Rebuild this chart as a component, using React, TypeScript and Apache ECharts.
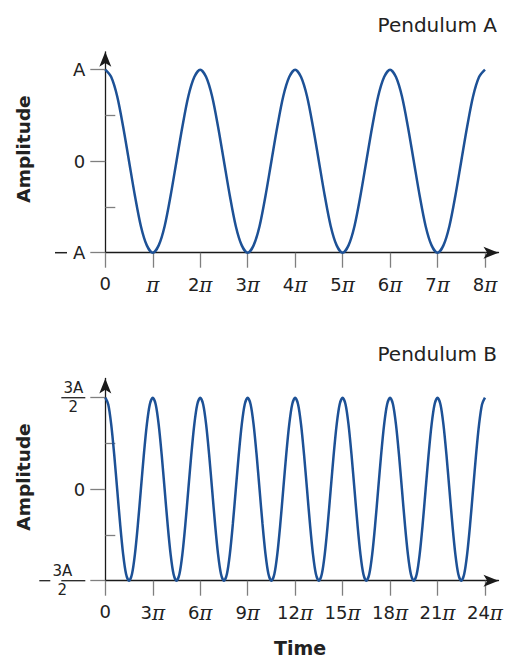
import React, { useEffect, useRef } from "react";
import * as echarts from "echarts";

// Pendulum A: time in units of π, amplitude in units of A
const xTop = [
  0, 0.125, 0.25, 0.375, 0.5, 0.625, 0.75, 0.875, 1, 1.125, 1.25, 1.375, 1.5, 1.625, 1.75, 1.875,
  2, 2.125, 2.25, 2.375, 2.5, 2.625, 2.75, 2.875, 3, 3.125, 3.25, 3.375, 3.5, 3.625, 3.75, 3.875,
  4, 4.125, 4.25, 4.375, 4.5, 4.625, 4.75, 4.875, 5, 5.125, 5.25, 5.375, 5.5, 5.625, 5.75, 5.875,
  6, 6.125, 6.25, 6.375, 6.5, 6.625, 6.75, 6.875, 7, 7.125, 7.25, 7.375, 7.5, 7.625, 7.75, 7.875,
  8,
];
const yTop = [
  1, 0.92, 0.71, 0.38, 0, -0.38, -0.71, -0.92, -1, -0.92, -0.71, -0.38, 0, 0.38, 0.71, 0.92,
  1, 0.92, 0.71, 0.38, 0, -0.38, -0.71, -0.92, -1, -0.92, -0.71, -0.38, 0, 0.38, 0.71, 0.92,
  1, 0.92, 0.71, 0.38, 0, -0.38, -0.71, -0.92, -1, -0.92, -0.71, -0.38, 0, 0.38, 0.71, 0.92,
  1, 0.92, 0.71, 0.38, 0, -0.38, -0.71, -0.92, -1, -0.92, -0.71, -0.38, 0, 0.38, 0.71, 0.92,
  1,
];
const xTicksTop = [0, 1, 2, 3, 4, 5, 6, 7, 8];
const yMajorTop = [-1, 0, 1];
const yMinorTop = [-0.5, 0.5];

// Pendulum B
const xBot = [
  0, 0.1875, 0.375, 0.5625, 0.75, 0.9375, 1.125, 1.3125, 1.5, 1.6875, 1.875, 2.0625, 2.25, 2.4375, 2.625, 2.8125,
  3, 3.1875, 3.375, 3.5625, 3.75, 3.9375, 4.125, 4.3125, 4.5, 4.6875, 4.875, 5.0625, 5.25, 5.4375, 5.625, 5.8125,
  6, 6.1875, 6.375, 6.5625, 6.75, 6.9375, 7.125, 7.3125, 7.5, 7.6875, 7.875, 8.0625, 8.25, 8.4375, 8.625, 8.8125,
  9, 9.1875, 9.375, 9.5625, 9.75, 9.9375, 10.125, 10.3125, 10.5, 10.6875, 10.875, 11.0625, 11.25, 11.4375, 11.625, 11.8125,
  12, 12.1875, 12.375, 12.5625, 12.75, 12.9375, 13.125, 13.3125, 13.5, 13.6875, 13.875, 14.0625, 14.25, 14.4375, 14.625, 14.8125,
  15, 15.1875, 15.375, 15.5625, 15.75, 15.9375, 16.125, 16.3125, 16.5, 16.6875, 16.875, 17.0625, 17.25, 17.4375, 17.625, 17.8125,
  18, 18.1875, 18.375, 18.5625, 18.75, 18.9375, 19.125, 19.3125, 19.5, 19.6875, 19.875, 20.0625, 20.25, 20.4375, 20.625, 20.8125,
  21, 21.1875, 21.375, 21.5625, 21.75, 21.9375, 22.125, 22.3125, 22.5, 22.6875, 22.875, 23.0625, 23.25, 23.4375, 23.625, 23.8125,
  24,
];
const yBot = [
  1.5, 1.39, 1.06, 0.57, 0, -0.57, -1.06, -1.39, -1.5, -1.39, -1.06, -0.57, 0, 0.57, 1.06, 1.39,
  1.5, 1.39, 1.06, 0.57, 0, -0.57, -1.06, -1.39, -1.5, -1.39, -1.06, -0.57, 0, 0.57, 1.06, 1.39,
  1.5, 1.39, 1.06, 0.57, 0, -0.57, -1.06, -1.39, -1.5, -1.39, -1.06, -0.57, 0, 0.57, 1.06, 1.39,
  1.5, 1.39, 1.06, 0.57, 0, -0.57, -1.06, -1.39, -1.5, -1.39, -1.06, -0.57, 0, 0.57, 1.06, 1.39,
  1.5, 1.39, 1.06, 0.57, 0, -0.57, -1.06, -1.39, -1.5, -1.39, -1.06, -0.57, 0, 0.57, 1.06, 1.39,
  1.5, 1.39, 1.06, 0.57, 0, -0.57, -1.06, -1.39, -1.5, -1.39, -1.06, -0.57, 0, 0.57, 1.06, 1.39,
  1.5, 1.39, 1.06, 0.57, 0, -0.57, -1.06, -1.39, -1.5, -1.39, -1.06, -0.57, 0, 0.57, 1.06, 1.39,
  1.5, 1.39, 1.06, 0.57, 0, -0.57, -1.06, -1.39, -1.5, -1.39, -1.06, -0.57, 0, 0.57, 1.06, 1.39,
  1.5,
];
const xTicksBot = [0, 3, 6, 9, 12, 15, 18, 21, 24];
const yMajorBot = [-1.5, 0, 1.5];
const yMinorBot = [-0.75, 0.75];

const titleA = "Pendulum A";
const titleB = "Pendulum B";
const yName = "Amplitude";
const xName = "Time";

const FONT = "'DejaVu Sans', 'Liberation Sans', Arial, sans-serif";
const AXIS = "#1a1a1a";
const TICK = "#7f7f7f";
const TXT = "#222222";
const LINE = "#1d5196";

const piRich = {
  p: { fontFamily: "'DejaVu Serif', 'Liberation Serif', serif", fontStyle: "italic", fontSize: 20, color: TXT },
};

function piLabel(v: number) {
  if (v === 0) return "0";
  if (v === 1) return "{p|π}";
  return `${v}{p|π}`;
}

export default function App() {
  const ref = useRef<HTMLDivElement>(null);
  useEffect(() => {
    if (!ref.current) return;
    const chart = echarts.init(ref.current, undefined, { renderer: "svg" });

    const xAxisBase = (max: number, ticks: number[], gridIndex: number) => ({
      type: "value",
      gridIndex,
      min: 0,
      max,
      splitLine: { show: false },
      axisLine: {
        show: true,
        onZero: false,
        symbol: ["none", "arrow"],
        symbolSize: [9, 15],
        lineStyle: { color: AXIS, width: 1.3 },
      },
      axisTick: { show: true, customValues: ticks, length: 15, lineStyle: { color: TICK, width: 1.3 } },
      axisLabel: {
        customValues: ticks,
        formatter: piLabel,
        margin: 22,
        fontSize: 18,
        fontFamily: FONT,
        color: TXT,
        rich: piRich,
      },
    });

    const yMajor = (min: number, max: number, vals: number[], gridIndex: number, fmt: any, rich: any) => ({
      type: "value",
      gridIndex,
      min,
      max,
      splitLine: { show: false },
      axisLine: {
        show: true,
        onZero: false,
        symbol: ["none", "arrow"],
        symbolSize: [9, 15],
        lineStyle: { color: AXIS, width: 1.3 },
      },
      axisTick: { show: true, customValues: vals, length: 15, lineStyle: { color: TICK, width: 1.3 } },
      axisLabel: {
        customValues: vals,
        formatter: fmt,
        margin: 20,
        fontSize: 18,
        fontFamily: FONT,
        color: TXT,
        rich,
      },
    });

    const yMinor = (min: number, max: number, vals: number[], gridIndex: number) => ({
      type: "value",
      gridIndex,
      min,
      max,
      splitLine: { show: false },
      axisLine: { show: false },
      axisTick: { show: true, customValues: vals, length: 10, lineStyle: { color: TICK, width: 1.3 } },
      axisLabel: { show: false },
    });

    const topRich = {
      dash: { width: 12, height: 1.5, backgroundColor: TXT, verticalAlign: "middle" },
      gap: { width: 6, height: 1 },
    };

    const fracRich = {
      n: { fontSize: 15, fontFamily: FONT, color: TXT, width: 24, align: "center", lineHeight: 16 },
      bar: { width: 24, height: 1.3, backgroundColor: TXT, lineHeight: 3 },
      dash: { width: 11, height: 1.3, backgroundColor: TXT, lineHeight: 3 },
      gap: { width: 11, height: 1, lineHeight: 3 },
    };

    const topFmt = (v: number) => (v === 1 ? "A" : v === -1 ? "{dash|}{gap|}A" : "0");
    const botFmt = (v: number) =>
      v === 1.5 ? "{n|3A}\n{bar|}\n{n|2}" : v === -1.5 ? "{n|3A}\n{dash|}{gap|}{bar|}\n{n|2}" : "0";

    const lineSeries = (xs: number[], ys: number[], xi: number, yi: number) => ({
      type: "line",
      xAxisIndex: xi,
      yAxisIndex: yi,
      data: xs.map((x, i) => [x, ys[i]]),
      smooth: 0.3,
      showSymbol: false,
      lineStyle: { color: LINE, width: 2.5 },
      z: 1,
    });

    const option = {
      animation: false,
      backgroundColor: "#ffffff",
      grid: [
        { left: 105.3, right: 7.5, top: 51.8, height: 200.9 },
        { left: 105.3, right: 7.5, top: 378.5, height: 202.2 },
      ],
      xAxis: [xAxisBase(8.285, xTicksTop, 0), xAxisBase(24.855, xTicksBot, 1)],
      yAxis: [
        yMajor(-1, 1.196, yMajorTop, 0, topFmt, topRich),
        yMinor(-1, 1.196, yMinorTop, 0),
        yMajor(-1.5, 1.815, yMajorBot, 1, botFmt, fracRich),
        yMinor(-1.5, 1.815, yMinorBot, 1),
      ],
      series: [lineSeries(xTop, yTop, 0, 0), lineSeries(xBot, yBot, 1, 2)],
      graphic: [
        { type: "text", x: 497, y: 25, style: { text: titleA, font: `20px ${FONT}`, fill: TXT, align: "right", verticalAlign: "middle" } },
        { type: "text", x: 497, y: 354, style: { text: titleB, font: `20px ${FONT}`, fill: TXT, align: "right", verticalAlign: "middle" } },
        {
          type: "text",
          x: 23.5,
          y: 149,
          rotation: Math.PI / 2,
          style: { text: yName, font: `bold 18.5px ${FONT}`, fill: TXT, align: "center", verticalAlign: "middle" },
        },
        {
          type: "text",
          x: 23.5,
          y: 477,
          rotation: Math.PI / 2,
          style: { text: yName, font: `bold 18.5px ${FONT}`, fill: TXT, align: "center", verticalAlign: "middle" },
        },
        {
          type: "text",
          x: 300,
          y: 648,
          style: { text: xName, font: `bold 19px ${FONT}`, fill: TXT, align: "center", verticalAlign: "middle" },
        },
      ],
    };
    chart.setOption(option as any);
    return () => chart.dispose();
  }, []);
  return <div ref={ref} style={{ position: "absolute", left: 0, top: 0, width: 506, height: 658 }} />;
}
